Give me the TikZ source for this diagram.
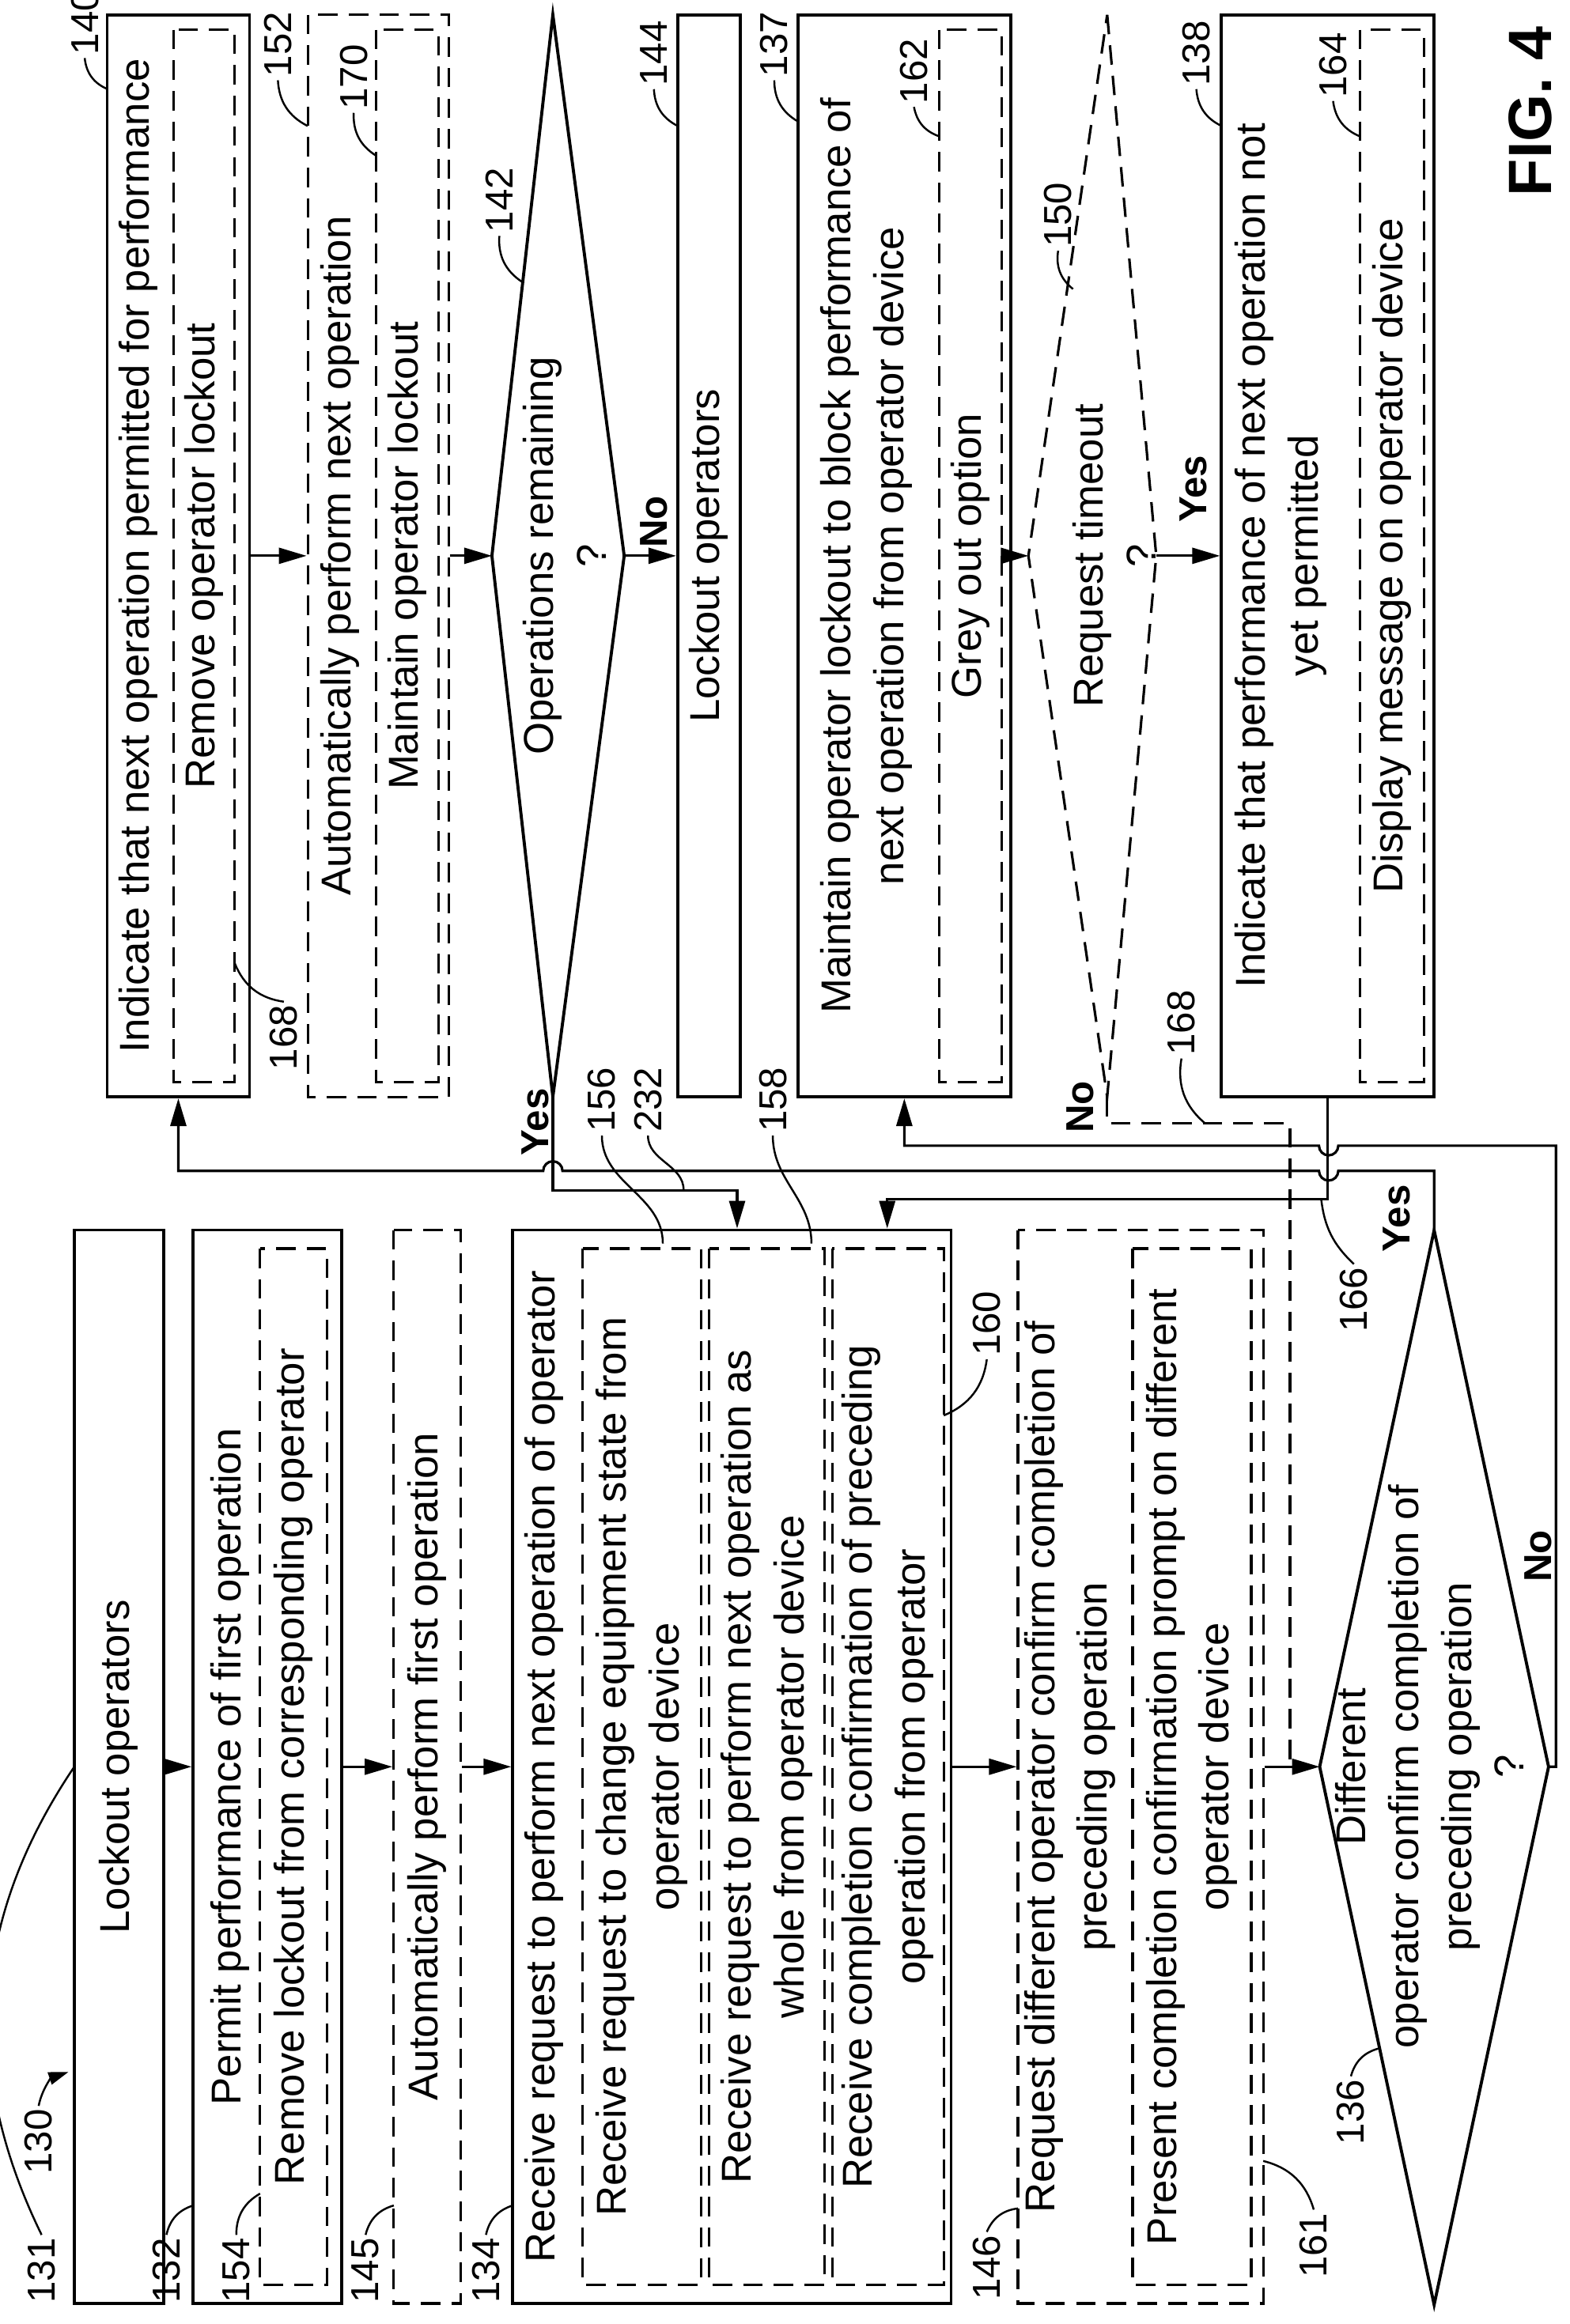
\documentclass[tikz,border=0pt]{standalone}
\usepackage{fontspec}
\setmainfont{Liberation Sans}
\usetikzlibrary{arrows.meta}
\tikzset{
  box/.style={draw, line width=1.1pt, rotate=90, inner sep=0pt},
  dbox/.style={box, dash pattern=on 7pt off 4pt, line width=0.9pt},
  txt/.style={rotate=90, align=center, font=\fontsize{15}{19}\selectfont, inner sep=0pt},
  num/.style={rotate=90, font=\fontsize{14}{16}\selectfont, inner sep=1pt},
  yn/.style={rotate=90, font=\bfseries\fontsize{14}{16}\selectfont, inner sep=1pt},
  flow/.style={line width=0.9pt, -{Triangle[length=3.5mm,width=2mm]}},
  lead/.style={line width=0.7pt},
}
\begin{document}
\begin{tikzpicture}[x=0.01878cm, y=-0.01874cm]
\useasboundingbox (0,0) rectangle (1056,1568);

% first part of the flow
\node[box, minimum width=13.57cm, minimum height=1.13cm] (b131) at (80,1192) {};
\node[txt] (t131) at (80,1192) {Lockout operators};
\node[box, minimum width=13.57cm, minimum height=1.88cm] (b132) at (180,1192) {};
\node[txt] (t132) at (155,1192) {Permit performance of first operation};
\node[dbox, minimum width=13.1cm, minimum height=0.85cm] (b154) at (197.5,1192) {};
\node[txt] (t154) at (197.5,1192) {Remove lockout from corresponding operator};
\node[dbox, minimum width=13.57cm, minimum height=0.85cm] (b145) at (287.5,1192) {};
\node[txt] (t145) at (287.5,1192) {Automatically perform first operation};
\node[box, minimum width=13.57cm, minimum height=5.54cm] (b134) at (492.5,1192) {};
\node[txt] (t134) at (366,1192) {Receive request to perform next operation of operator};
\node[dbox, minimum width=13.1cm, minimum height=1.5cm] (b156) at (432,1192) {};
\node[txt] (t156) at (432,1192) {Receive request to change equipment state from\\operator device};
\node[dbox, minimum width=13.1cm, minimum height=1.46cm] (b158) at (516,1192) {};
\node[txt] (t158) at (516,1192) {Receive request to perform next operation as\\whole from operator device};
\node[dbox, minimum width=13.1cm, minimum height=1.41cm] (b160) at (597.5,1192) {};
\node[txt] (t160) at (597.5,1192) {Receive completion confirmation of preceding\\operation from operator};
\node[dbox, minimum width=13.57cm, minimum height=3.1cm] (b146) at (767.5,1192) {};
\node[txt] (t146) at (720,1192) {Request different operator confirm completion of\\preceding operation};
\node[dbox, minimum width=13.1cm, minimum height=1.5cm] (b161) at (802,1192) {};
\node[txt] (t161) at (802,1192) {Present completion confirmation prompt on different\\operator device};
\coordinate (d136t) at (965,830);
\coordinate (d136r) at (1042,1192);
\coordinate (d136b) at (965,1555);
\coordinate (d136l) at (888,1192);
\draw[line width=1.1pt] (d136t) -- (d136r) -- (d136b) -- (d136l) -- cycle;
\node[txt] (t136) at (962,1192) {Different\\operator confirm completion of\\preceding operation\\?};

% second part of the flow
\node[box, minimum width=13.68cm, minimum height=1.8cm] (b140) at (120,375) {};
\node[txt] (t140) at (93,375) {Indicate that next operation permitted for performance};
\node[dbox, minimum width=13.3cm, minimum height=0.77cm] (b168) at (137.5,375) {};
\node[txt] (t168) at (137.5,375) {Remove operator lockout};
\node[dbox, minimum width=13.68cm, minimum height=1.78cm] (b152) at (254.5,375) {};
\node[txt] (t152) at (229,375) {Automatically perform next operation};
\node[dbox, minimum width=13.3cm, minimum height=0.79cm] (b170) at (274,375) {};
\node[txt] (t170) at (274,375) {Maintain operator lockout};
\coordinate (d142t) at (372,10);
\coordinate (d142r) at (420,375);
\coordinate (d142b) at (372,740);
\coordinate (d142l) at (331,375);
\draw[line width=1.1pt] (d142t) -- (d142r) -- (d142b) -- (d142l) -- cycle;
\node[txt] (t142) at (380,375) {Operations remaining\\?};
\node[box, minimum width=13.68cm, minimum height=0.79cm] (b144) at (477,375) {};
\node[txt] (t144) at (477,375) {Lockout operators};
\node[box, minimum width=13.68cm, minimum height=2.69cm] (b137) at (608.5,375) {};
\node[txt] (t137) at (583,375) {Maintain operator lockout to block performance of\\next operation from operator device};
\node[dbox, minimum width=13.3cm, minimum height=0.79cm] (b162) at (653,375) {};
\node[txt] (t162) at (653,375) {Grey out option};
\coordinate (d150t) at (745,10);
\coordinate (d150r) at (778,375);
\coordinate (d150b) at (745,740);
\coordinate (d150l) at (692,375);
\draw[line width=0.9pt, dash pattern=on 7pt off 4pt] (d150t) -- (d150r) -- (d150b) -- (d150l) -- cycle;
\node[txt] (t150) at (750,375) {Request timeout\\?};
\node[box, minimum width=13.68cm, minimum height=2.69cm] (b138) at (893.5,375) {};
\node[txt] (t138) at (862,375) {Indicate that performance of next operation not\\yet permitted};
\node[dbox, minimum width=13.3cm, minimum height=0.81cm] (b164) at (936.5,375) {};
\node[txt] (t164) at (936.5,375) {Display message on operator device};
\node[rotate=90, font=\bfseries\fontsize{22}{24}\selectfont] (fig) at (1030,75) {FIG. 4};

% straight arrows
\draw[flow] (b131.south) -- (b132.north);
\draw[flow] (b132.south) -- (b145.north);
\draw[flow] (b145.south) -- (b134.north);
\draw[flow] (b134.south) -- (b146.north);
\draw[flow] (b146.south) -- (d136l);
\draw[flow] (b140.south) -- (b152.north);
\draw[flow] (b152.south) -- (d142l);
\draw[flow] (d142r) -- (b144.north);
\draw[flow] (b137.south) -- (d150l);
\draw[flow] (d150r) -- (b138.north);

% loops back
\coordinate (k1) at (496,803);
\draw[flow] (d142b) |- (k1) -- (b134.east -| k1);
\coordinate (k2) at (965,790);
\coordinate (k3) at (120,790);
\draw[flow] (d136t) -- (k2) -- (900.5,790) arc(0:180:6.5) -- (378.5,790) arc(0:-180:6.5) -- (k3) -- (b140.west);
\coordinate (k4) at (1047,1192);
\coordinate (k5) at (1047,773);
\coordinate (k6) at (608.5,773);
\draw[flow] (d136r) -- (k4) -- (k5) -- (900.5,773) arc(0:180:6.5) -- (k6) -- (b137.west);
\coordinate (k7) at (893.5,809);
\coordinate (k8) at (597,809);
\draw[flow] (b138.west) -- (k7) -- (k8) -- (b134.east -| k8);
\coordinate (k9) at (745,758);
\coordinate (k10) at (868,758);
\coordinate (k11) at (868,1192);
\draw[line width=0.9pt, dash pattern=on 7pt off 4pt] (d150b) -- (k9) -- (k10) -- (k11);

% yes / no
\node[yn] (y142) at (360,757) {Yes};
\node[yn] (n142) at (440,352) {No};
\node[yn] (y150) at (803,330) {Yes};
\node[yn] (n150) at (727,747) {No};
\node[yn] (y136) at (940,822) {Yes};
\node[yn] (n136) at (1035,1050) {No};

% reference numerals
\node[num] (l131) at (28,1532) {131};
\draw[lead] (l131.east) to[bend left=30] (b131.north -| 50,1488);
\node[num] (l130) at (26,1445) {130};
\draw[lead, -{Triangle[length=2.5mm,width=1.6mm]}] (l130.east) to[bend left=30] (46,1398);
\node[num] (l132) at (112,1532) {132};
\draw[lead] (l132.east) to[bend left=30] (130,1488);
\node[num] (l154) at (159,1532) {154};
\draw[lead] (l154.east) to[bend left=30] (175,1480);
\node[num] (l145) at (246,1532) {145};
\draw[lead] (l145.east) to[bend left=30] (265,1488);
\node[num] (l134) at (327,1532) {134};
\draw[lead] (l134.east) to[bend left=30] (345,1488);
\node[num] (l146) at (664,1530) {146};
\draw[lead] (l146.east) to[bend left=30] (685,1490);
\node[num] (l161) at (884,1515) {161};
\draw[lead] (l161.east) to[bend right=30] (850,1458);
\node[num] (l136) at (909,1425) {136};
\draw[lead] (l136.east) to[bend left=30] (928,1382);
\node[num] (l160) at (664,893) {160};
\draw[lead] (l160.west) to[bend left=30] (635,955);
\node[num] (l166) at (911,877) {166};
\draw[lead] (l166.east) to[bend left=20] (889,809);
\node[num] (l156) at (405,742) {156};
\draw[lead] (l156.west) to[out=-90, in=90] (446,839);
\node[num] (l232) at (436,742) {232};
\draw[lead] (l232.west) to[out=-90, in=90] (460,803);
\node[num] (l158) at (520,742) {158};
\draw[lead] (l158.west) to[out=-90, in=90] (546,839);
\node[num] (l168b) at (795,690) {168};
\draw[lead] (l168b.west) to[bend right=30] (811,758);
\node[num] (l168a) at (191,700) {168};
\draw[lead] (l168a.east) to[bend left=30] (158,650);
\node[num] (l140) at (57,15) {140};
\draw[lead] (l140.west) to[bend right=30] (72,60);
\node[num] (l152) at (187,30) {152};
\draw[lead] (l152.west) to[bend right=30] (207,85);
\node[num] (l170) at (238,52) {170};
\draw[lead] (l170.west) to[bend right=30] (253,105);
\node[num] (l142) at (336,135) {142};
\draw[lead] (l142.west) to[bend right=30] (351,190);
\node[num] (l144) at (440,36) {144};
\draw[lead] (l144.west) to[bend right=30] (456,85);
\node[num] (l137) at (521,30) {137};
\draw[lead] (l137.west) to[bend right=30] (537,82);
\node[num] (l162) at (615,48) {162};
\draw[lead] (l162.west) to[bend right=30] (632,92);
\node[num] (l150) at (712,145) {150};
\draw[lead] (l150.west) to[bend right=30] (722,195);
\node[num] (l138) at (805,36) {138};
\draw[lead] (l138.west) to[bend right=30] (822,85);
\node[num] (l164) at (897,44) {164};
\draw[lead] (l164.west) to[bend right=30] (915,92);
\end{tikzpicture}
\end{document}
